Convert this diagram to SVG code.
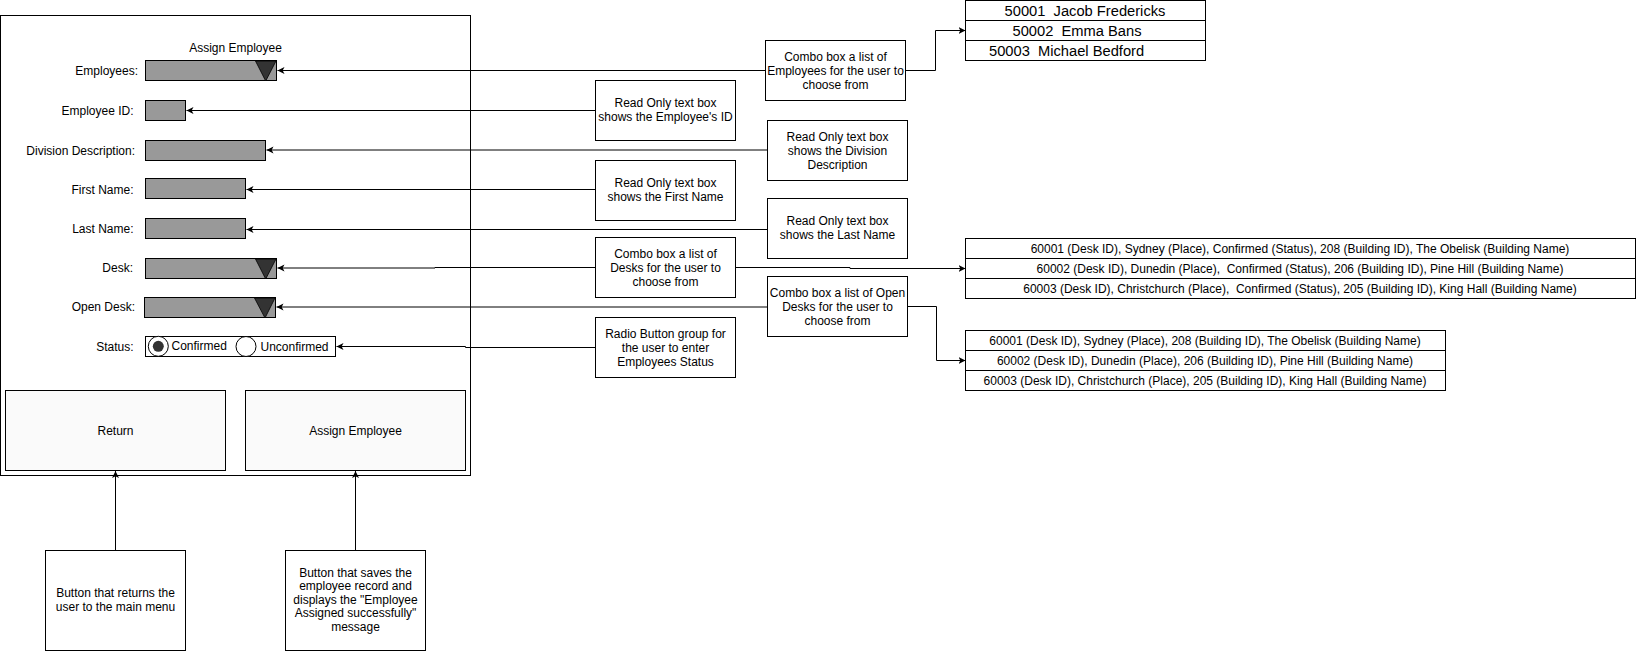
<svg xmlns="http://www.w3.org/2000/svg" width="1636" height="651" viewBox="0 0 1636 651">
<defs>
<style>
text{font-family:"Liberation Sans",Arial,Helvetica,sans-serif;font-size:12px;fill:#000;white-space:pre}
.r{text-anchor:end}
.c{text-anchor:middle}
.big{font-size:14.7px}
.box{fill:#fff;stroke:#000;stroke-width:1}
.fld{fill:#999;stroke:#000;stroke-width:1}
.btn{fill:#fafafa;stroke:#000;stroke-width:1}
.tri{fill:#333;stroke:#000;stroke-width:0.8}
.ln{fill:none;stroke:#000;stroke-width:1}
</style>
<marker id="arr" markerWidth="8" markerHeight="8" refX="7" refY="3.5" orient="auto" markerUnits="userSpaceOnUse">
<path d="M0,0 L7,3.5 L0,7 L1.8,3.5 Z" fill="#000"/>
</marker>
</defs>
<rect width="1636" height="651" fill="#fff"/>

<g id="form">
<rect class="box" x="0.5" y="15.5" width="470" height="460"/>
<text class="c" x="235.5" y="51.5">Assign Employee</text>
</g>

<g id="employees-field">
<text class="r" x="138" y="74.5">Employees:</text>
<rect class="fld" x="145.5" y="60.5" width="131" height="20"/>
<polygon class="tri" points="255.5,61 276,61 265.7,81"/>
</g>
<g id="employee-id-field">
<text class="r" x="133.5" y="114.5">Employee ID:</text>
<rect class="fld" x="145.5" y="100.5" width="40" height="20"/>
</g>
<g id="division-field">
<text class="r" x="135" y="154.5">Division Description:</text>
<rect class="fld" x="145.5" y="140.5" width="120" height="20"/>
</g>
<g id="first-name-field">
<text class="r" x="133.5" y="193.5">First Name:</text>
<rect class="fld" x="145.5" y="178.5" width="100" height="20"/>
</g>
<g id="last-name-field">
<text class="r" x="133.5" y="233">Last Name:</text>
<rect class="fld" x="145.5" y="218.5" width="100" height="20"/>
</g>
<g id="desk-field">
<text class="r" x="133" y="272">Desk:</text>
<rect class="fld" x="145.5" y="258.5" width="131" height="20"/>
<polygon class="tri" points="255.5,259 276,259 265.7,279"/>
</g>
<g id="open-desk-field">
<text class="r" x="135" y="311">Open Desk:</text>
<rect class="fld" x="144.5" y="297.5" width="131" height="20"/>
<polygon class="tri" points="254.5,298 275,298 265,318"/>
</g>
<g id="status-field">
<text class="r" x="133.5" y="351">Status:</text>
<rect class="box" x="145.5" y="336.5" width="190" height="20"/>
<circle cx="158.3" cy="346.3" r="10" fill="#fff" stroke="#000"/>
<circle cx="158.3" cy="346.3" r="5.5" fill="#333"/>
<text x="171.5" y="350">Confirmed</text>
<circle cx="246" cy="346.5" r="10" fill="#fff" stroke="#000"/>
<text x="260.5" y="351">Unconfirmed</text>
</g>
<g id="return-button">
<rect class="btn" x="5.5" y="390.5" width="220" height="80"/>
<text class="c" x="115.5" y="434.5">Return</text>
</g>
<g id="assign-button">
<rect class="btn" x="245.5" y="390.5" width="220" height="80"/>
<text class="c" x="355.5" y="434.5">Assign Employee</text>
</g>

<g id="note-employees">
<rect class="box" x="765.5" y="40.5" width="140" height="60"/>
<text class="c" x="835.5" y="61">Combo box a list of</text>
<text class="c" x="835.5" y="75">Employees for the user to</text>
<text class="c" x="835.5" y="89">choose from</text>
</g>
<g id="note-employee-id">
<rect class="box" x="595.5" y="80.5" width="140" height="60"/>
<text class="c" x="665.5" y="107">Read Only text box</text>
<text class="c" x="665.5" y="121">shows the Employee's ID</text>
</g>
<g id="note-division">
<rect class="box" x="767.5" y="120.5" width="140" height="60"/>
<text class="c" x="837.5" y="141">Read Only text box</text>
<text class="c" x="837.5" y="155">shows the Division</text>
<text class="c" x="837.5" y="169">Description</text>
</g>
<g id="note-first-name">
<rect class="box" x="595.5" y="160.5" width="140" height="60"/>
<text class="c" x="665.5" y="187">Read Only text box</text>
<text class="c" x="665.5" y="201">shows the First Name</text>
</g>
<g id="note-last-name">
<rect class="box" x="767.5" y="198.5" width="140" height="60"/>
<text class="c" x="837.5" y="225">Read Only text box</text>
<text class="c" x="837.5" y="239">shows the Last Name</text>
</g>
<g id="note-desks">
<rect class="box" x="595.5" y="237.5" width="140" height="60"/>
<text class="c" x="665.5" y="258">Combo box a list of</text>
<text class="c" x="665.5" y="272">Desks for the user to</text>
<text class="c" x="665.5" y="286">choose from</text>
</g>
<g id="note-open-desks">
<rect class="box" x="767.5" y="276.5" width="140" height="60"/>
<text class="c" x="837.5" y="297">Combo box a list of Open</text>
<text class="c" x="837.5" y="311">Desks for the user to</text>
<text class="c" x="837.5" y="325">choose from</text>
</g>
<g id="note-radio">
<rect class="box" x="595.5" y="317.5" width="140" height="60"/>
<text class="c" x="665.5" y="338">Radio Button group for</text>
<text class="c" x="665.5" y="352">the user to enter</text>
<text class="c" x="665.5" y="366">Employees Status</text>
</g>
<g id="note-return">
<rect class="box" x="45.5" y="550.5" width="140" height="100"/>
<text class="c" x="115.5" y="597">Button that returns the</text>
<text class="c" x="115.5" y="611">user to the main menu</text>
</g>
<g id="note-assign">
<rect class="box" x="285.5" y="550.5" width="140" height="100"/>
<text class="c" x="355.5" y="576.5">Button that saves the</text>
<text class="c" x="355.5" y="590">employee record and</text>
<text class="c" x="355.5" y="603.5">displays the "Employee</text>
<text class="c" x="355.5" y="617">Assigned successfully"</text>
<text class="c" x="355.5" y="630.5">message</text>
</g>

<g id="employee-list">
<rect class="box" x="965.5" y="0.5" width="240" height="60"/>
<line class="ln" x1="965.5" y1="20.5" x2="1205.5" y2="20.5"/>
<line class="ln" x1="965.5" y1="40.5" x2="1205.5" y2="40.5"/>
<text class="big c" x="1085" y="15.5">50001  Jacob Fredericks</text>
<text class="big c" x="1077" y="35.5">50002  Emma Bans</text>
<text class="big" x="989" y="55.5">50003  Michael Bedford</text>
</g>
<g id="desk-list">
<rect class="box" x="965.5" y="238.5" width="670" height="60"/>
<line class="ln" x1="965.5" y1="258.5" x2="1635.5" y2="258.5"/>
<line class="ln" x1="965.5" y1="278.5" x2="1635.5" y2="278.5"/>
<text class="c" x="1300" y="252.5">60001 (Desk ID), Sydney (Place), Confirmed (Status), 208 (Building ID), The Obelisk (Building Name)</text>
<text class="c" x="1300" y="272.5">60002 (Desk ID), Dunedin (Place),  Confirmed (Status), 206 (Building ID), Pine Hill (Building Name)</text>
<text class="c" x="1300" y="292.5">60003 (Desk ID), Christchurch (Place),  Confirmed (Status), 205 (Building ID), King Hall (Building Name)</text>
</g>
<g id="open-desk-list">
<rect class="box" x="965.5" y="330.5" width="480" height="60"/>
<line class="ln" x1="965.5" y1="350.5" x2="1445.5" y2="350.5"/>
<line class="ln" x1="965.5" y1="370.5" x2="1445.5" y2="370.5"/>
<text class="c" x="1205" y="344.5">60001 (Desk ID), Sydney (Place), 208 (Building ID), The Obelisk (Building Name)</text>
<text class="c" x="1205" y="364.5">60002 (Desk ID), Dunedin (Place), 206 (Building ID), Pine Hill (Building Name)</text>
<text class="c" x="1205" y="384.5">60003 (Desk ID), Christchurch (Place), 205 (Building ID), King Hall (Building Name)</text>
</g>

<g id="connectors">
<path class="ln" marker-end="url(#arr)" d="M765.5,70.5 H277.5"/>
<path class="ln" marker-end="url(#arr)" d="M595.5,110.5 H186.5"/>
<path class="ln" marker-end="url(#arr)" d="M767.5,150 H266.5"/>
<path class="ln" marker-end="url(#arr)" d="M595.5,189.5 H246.5"/>
<path class="ln" marker-end="url(#arr)" d="M767.5,229.5 H246.5"/>
<path class="ln" marker-end="url(#arr)" d="M595.5,267.5 H435 V268 H277.5"/>
<path class="ln" marker-end="url(#arr)" d="M767.5,307 H276.5"/>
<path class="ln" marker-end="url(#arr)" d="M595.5,347.5 H465.5 V346.5 H336.5"/>
<path class="ln" marker-end="url(#arr)" d="M905.5,70.5 H935.5 V30.5 H965.5"/>
<path class="ln" marker-end="url(#arr)" d="M735.5,267.5 H850 V268.5 H965.5"/>
<path class="ln" marker-end="url(#arr)" d="M907.5,306.5 H936.5 V360.5 H965.5"/>
<path class="ln" marker-end="url(#arr)" d="M115.5,550.5 V471"/>
<path class="ln" marker-end="url(#arr)" d="M355.5,550.5 V471"/>
</g>
</svg>
